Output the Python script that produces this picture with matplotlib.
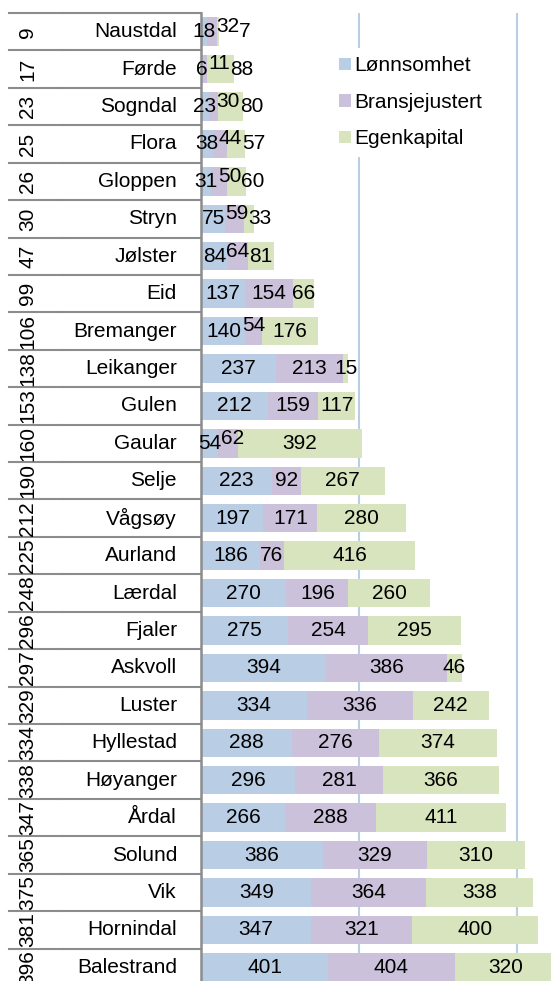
import matplotlib
matplotlib.use("Agg")
import matplotlib.pyplot as plt
import matplotlib.transforms as mtransforms
from matplotlib.patches import Patch

plt.rcParams['font.family'] = ['Liberation Sans', 'DejaVu Sans']

# --- data ---
ranks = [9, 17, 23, 25, 26, 30, 47, 99, 106, 138, 153, 160, 190, 212,
         225, 248, 296, 297, 329, 334, 338, 347, 365, 375, 381, 396]
names = ["Naustdal", "Førde", "Sogndal", "Flora", "Gloppen", "Stryn", "Jølster",
         "Eid", "Bremanger", "Leikanger", "Gulen", "Gaular", "Selje", "Vågsøy",
         "Aurland", "Lærdal", "Fjaler", "Askvoll", "Luster", "Hyllestad",
         "Høyanger", "Årdal", "Solund", "Vik", "Hornindal", "Balestrand"]
lonnsomhet = [18, 6, 23, 38, 31, 75, 84, 137, 140, 237, 212, 54, 223, 197,
              186, 270, 275, 394, 334, 288, 296, 266, 386, 349, 347, 401]
bransje = [32, 11, 30, 44, 50, 59, 64, 154, 54, 213, 159, 62, 92, 171,
           76, 196, 254, 386, 336, 276, 281, 288, 329, 364, 321, 404]
egenkap = [7, 88, 80, 57, 60, 33, 81, 66, 176, 15, 117, 392, 267, 280,
           416, 260, 295, 46, 242, 374, 366, 411, 310, 338, 400, 320]
series_names = ["Lønnsomhet", "Bransjejustert", "Egenkapital"]
colors = ["#b9cde5", "#ccc1da", "#d7e4bd"]

W, H = 551, 981
fig = plt.figure(figsize=(W / 100, H / 100), dpi=100)

# plot area in pixels (top-left origin)
left_px, top_px, bottom_px = 201.3, 13, 986
ax = fig.add_axes([left_px / W, (H - bottom_px) / H,
                   (W - left_px) / W, (bottom_px - top_px) / H])
px_per_unit = 0.3154
ax.set_xlim(0, (W - left_px) / px_per_unit)
n = len(names)
ax.set_ylim(n - 0.5, -0.5)

ys = list(range(n))
series = [lonnsomhet, bransje, egenkap]
lefts = [0] * n
for vals, col, lab in zip(series, colors, series_names):
    ax.barh(ys, vals, left=lefts, height=0.76, color=col, label=lab, zorder=2)
    lefts = [a + b for a, b in zip(lefts, vals)]

ax.set_xticks([500, 1000])
ax.xaxis.grid(True, color="#b9cde5", linewidth=1.5, zorder=0)
ax.set_axisbelow(True)
ax.tick_params(axis='x', length=0, labelbottom=False)
ax.set_yticks([])
for s in ["top", "right", "bottom"]:
    ax.spines[s].set_visible(False)
ax.spines["left"].set_color("#8c8c8c")
ax.spines["left"].set_linewidth(1.8)

# data labels, pushed apart left to right when they collide
fig.canvas.draw()
renderer = fig.canvas.get_renderer()
for i in range(n):
    start = 0
    prev_right = None
    for k, vals in enumerate(series):
        v = vals[i]
        c = start + v / 2
        t = ax.text(c, i, str(v), ha="center", va="center", fontsize=15, zorder=4)
        w = t.get_window_extent(renderer).width / px_per_unit
        # narrow middle segments get their label lifted a little
        raised = k == 1 and v < w
        if prev_right is not None and c - w / 2 < prev_right:
            c = prev_right + w / 2
        t.set_x(c)
        if raised:
            t.set_y(i - 0.14)
        prev_right = c + w / 2
        start += v

# category table on the left
def axx(px):
    return (px - left_px) / (W - left_px)

trans = mtransforms.blended_transform_factory(ax.transAxes, ax.transData)
for b in range(n):
    yb = b - 0.5
    ax.plot([axx(9), axx(63)], [yb, yb], color="#8c8c8c", lw=1.5,
            transform=trans, clip_on=False)
    ax.plot([axx(64), axx(201)], [yb, yb], color="#8c8c8c", lw=1.5,
            transform=trans, clip_on=False)
for i in range(n):
    ax.text(axx(177), i, names[i], ha="right", va="center", fontsize=15,
            transform=trans, clip_on=False)
    ax.text(axx(28), i, str(ranks[i]), ha="center", va="center", fontsize=15,
            rotation=90, transform=trans, clip_on=False)

handles = [Patch(facecolor=c, edgecolor="none") for c in colors]
leg = ax.legend(handles, series_names, loc="upper left",
                bbox_to_anchor=(331 / W, 1 - 48 / H), bbox_transform=fig.transFigure,
                fontsize=15, frameon=True, framealpha=1, edgecolor="none",
                handlelength=0.55, handleheight=0.55, handletextpad=0.15,
                labelspacing=0.84, borderpad=0.4, borderaxespad=0)
leg.set_zorder(5)

fig.savefig("out.png", dpi=100)
